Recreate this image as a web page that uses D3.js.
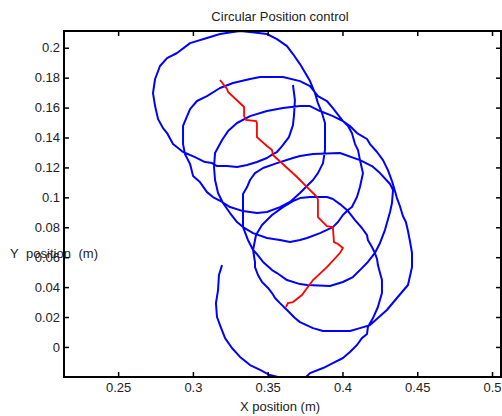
<!DOCTYPE html>
<html>
<head>
<meta charset="utf-8">
<script src="https://cdn.jsdelivr.net/npm/d3@7"></script>
<style>
  body { margin: 0; background: #fff; }
  text { font-family: "Liberation Sans", Arial, sans-serif; font-size: 13px; fill: #222; }
</style>
</head>
<body>
<svg id="chart" width="502" height="416"></svg>
<script>
//////////////////////////////////////////////////////////////////////////////
// Data (metres)

var xTicks = [0.25, 0.3, 0.35, 0.4, 0.45, 0.5];
var yTicks = [0, 0.02, 0.04, 0.06, 0.08, 0.1, 0.12, 0.14, 0.16, 0.18, 0.2];

// blue trajectory, one continuous path
var blueX = [
  0.3195, 0.3174, 0.3168, 0.3154, 0.3161, 0.3181, 0.3215, 0.3261, 0.3315, 0.3382,
  0.3449, 0.3515, 0.3596, 0.3682, 0.3749, 0.3783, 0.3870, 0.3936, 0.4003, 0.4050,
  0.4097, 0.4130, 0.4164, 0.4170, 0.4204, 0.4237, 0.4264, 0.4264, 0.4251, 0.4237,
  0.4231, 0.4217, 0.4197, 0.4170, 0.4164, 0.4130, 0.4084, 0.4037, 0.3983, 0.3936,
  0.3896, 0.3783, 0.3716, 0.3669, 0.3602, 0.3529, 0.3462, 0.3422, 0.3402, 0.3428,
  0.3469, 0.3529, 0.3562, 0.3629, 0.3716, 0.3763, 0.3916, 0.4003, 0.4070, 0.4130,
  0.4170, 0.4217, 0.4251, 0.4284, 0.4318, 0.4331, 0.4338, 0.4318, 0.4251, 0.4197,
  0.4117, 0.3983, 0.3803, 0.3716, 0.3669, 0.3562, 0.3469, 0.3415, 0.3382, 0.3362,
  0.3335, 0.3335, 0.3335, 0.3402, 0.3495, 0.3582, 0.3649, 0.3716, 0.3763, 0.3850,
  0.3936, 0.3970, 0.4003, 0.4037, 0.4063, 0.4097, 0.4117, 0.4130, 0.4137, 0.4117,
  0.4104, 0.4084, 0.4063, 0.4037, 0.4003, 0.3936, 0.3850, 0.3783, 0.3716, 0.3602,
  0.3495, 0.3382, 0.3295, 0.3235, 0.3195, 0.3148, 0.3141, 0.3148, 0.3168, 0.3201,
  0.3248, 0.3295, 0.3335, 0.3368, 0.3402, 0.3415, 0.3415, 0.3435, 0.3462, 0.3502,
  0.3529, 0.3549, 0.3582, 0.3629, 0.3682, 0.3716, 0.3803, 0.3870, 0.4050, 0.4117,
  0.4184, 0.4237, 0.4297, 0.4364, 0.4438, 0.4465, 0.4465, 0.4451, 0.4438, 0.4424,
  0.4404, 0.4384, 0.4364, 0.4351, 0.4331, 0.4304, 0.4271, 0.4231, 0.4184, 0.4164,
  0.4097, 0.4050, 0.4003, 0.3936, 0.3896, 0.3836, 0.3783, 0.3716, 0.3602, 0.3449,
  0.3382, 0.3268, 0.3181, 0.3094, 0.3027, 0.2981, 0.2961, 0.2934, 0.2934, 0.2947,
  0.2981, 0.3001, 0.3047, 0.3094, 0.3134, 0.3195, 0.3248, 0.3335, 0.3428, 0.3495,
  0.3582, 0.3649, 0.3716, 0.3769, 0.3803, 0.3836, 0.3870, 0.3883, 0.3883, 0.3883,
  0.3863, 0.3836, 0.3816, 0.3783, 0.3716, 0.3669, 0.3629, 0.3562, 0.3495, 0.3382,
  0.3315, 0.3268, 0.3181, 0.3094, 0.2981, 0.2894, 0.2827, 0.2780, 0.2747, 0.2733,
  0.2747, 0.2767, 0.2800, 0.2827, 0.2867, 0.2934, 0.3014, 0.3081, 0.3128, 0.3161,
  0.3228, 0.3295, 0.3362, 0.3428, 0.3495, 0.3535, 0.3562, 0.3596, 0.3642, 0.3669,
  0.3676, 0.3682, 0.3669
];
var blueY = [
  0.0547, 0.0481, 0.0380, 0.0293, 0.0200, 0.0146, 0.0059, -0.0007, -0.0067, -0.0121,
  -0.0154, -0.0188, -0.0208, -0.0221, -0.0208, -0.0175, -0.0141, -0.0108, -0.0074, -0.0034,
  0.0013, 0.0059, 0.0086, 0.0133, 0.0193, 0.0267, 0.0360, 0.0447, 0.0494, 0.0547,
  0.0588, 0.0628, 0.0668, 0.0715, 0.0748, 0.0795, 0.0848, 0.0908, 0.0955, 0.0989,
  0.1002, 0.1002, 0.0995, 0.0975, 0.0935, 0.0882, 0.0815, 0.0748, 0.0648, 0.0621,
  0.0568, 0.0514, 0.0494, 0.0447, 0.0420, 0.0414, 0.0407, 0.0434, 0.0467, 0.0527,
  0.0568, 0.0628, 0.0695, 0.0781, 0.0902, 0.0962, 0.1049, 0.1089, 0.1162, 0.1209,
  0.1249, 0.1296, 0.1289, 0.1276, 0.1263, 0.1229, 0.1196, 0.1162, 0.1116, 0.1069,
  0.1022, 0.0915, 0.0801, 0.0761, 0.0728, 0.0715, 0.0701, 0.0715, 0.0728, 0.0761,
  0.0801, 0.0835, 0.0882, 0.0915, 0.0935, 0.1002, 0.1069, 0.1129, 0.1162, 0.1249,
  0.1316, 0.1356, 0.1430, 0.1477, 0.1510, 0.1543, 0.1577, 0.1610, 0.1610, 0.1597,
  0.1577, 0.1543, 0.1497, 0.1443, 0.1383, 0.1296, 0.1203, 0.1116, 0.1029, 0.0962,
  0.0895, 0.0835, 0.0801, 0.0715, 0.0648, 0.0568, 0.0534, 0.0481, 0.0434, 0.0394,
  0.0360, 0.0327, 0.0293, 0.0247, 0.0193, 0.0166, 0.0126, 0.0106, 0.0106, 0.0126,
  0.0146, 0.0193, 0.0247, 0.0327, 0.0414, 0.0534, 0.0628, 0.0708, 0.0775, 0.0835,
  0.0875, 0.0942, 0.0995, 0.1042, 0.1109, 0.1182, 0.1249, 0.1303, 0.1356, 0.1390,
  0.1430, 0.1477, 0.1510, 0.1597, 0.1644, 0.1677, 0.1744, 0.1777, 0.1804, 0.1804,
  0.1791, 0.1764, 0.1731, 0.1677, 0.1644, 0.1590, 0.1543, 0.1477, 0.1356, 0.1289,
  0.1223, 0.1142, 0.1102, 0.1035, 0.1002, 0.0969, 0.0935, 0.0908, 0.0895, 0.0902,
  0.0935, 0.0969, 0.1029, 0.1082, 0.1116, 0.1162, 0.1229, 0.1316, 0.1383, 0.1497,
  0.1564, 0.1630, 0.1697, 0.1777, 0.1891, 0.1958, 0.2011, 0.2058, 0.2092, 0.2105,
  0.2112, 0.2105, 0.2092, 0.2065, 0.2031, 0.1965, 0.1931, 0.1878, 0.1791, 0.1697,
  0.1610, 0.1523, 0.1463, 0.1430, 0.1356, 0.1303, 0.1269, 0.1236, 0.1229, 0.1209,
  0.1209, 0.1203, 0.1216, 0.1236, 0.1263, 0.1289, 0.1303, 0.1343, 0.1403, 0.1483,
  0.1550, 0.1650, 0.1751
];

// red trajectory
var redX = [
  0.3181, 0.3228, 0.3235, 0.3342, 0.3342, 0.3355, 0.3422, 0.3428, 0.3428, 0.3495,
  0.3529, 0.3535, 0.3696, 0.3763, 0.3830, 0.3836, 0.3836, 0.3896, 0.3936, 0.3943,
  0.3970, 0.4003, 0.3983, 0.3896, 0.3803, 0.3729, 0.3669, 0.3636, 0.3622
];
var redY = [
  0.1784, 0.1724, 0.1704, 0.1604, 0.1543, 0.1517, 0.1510, 0.1497, 0.1403, 0.1343,
  0.1316, 0.1283, 0.1136, 0.1069, 0.1002, 0.0982, 0.0868, 0.0808, 0.0801, 0.0701,
  0.0688, 0.0661, 0.0628, 0.0534, 0.0447, 0.0347, 0.0300, 0.0293, 0.0267
];

//////////////////////////////////////////////////////////////////////////////
// Scales (axis equal, same px per metre on both axes)

var plotL = 64, plotR = 501, plotT = 31, plotB = 377;

var xScale = d3.scaleLinear().domain([0.2138, 0.5060]).range([plotL, plotR]);
var yScale = d3.scaleLinear().domain([-0.0201, 0.2112]).range([plotB, plotT]);

var svg = d3.select("#chart");

svg.append("rect")
    .attr("width", 502).attr("height", 416)
    .attr("fill", "#fff");

svg.append("clipPath").attr("id", "plotclip")
  .append("rect")
    .attr("x", plotL).attr("y", plotT)
    .attr("width", plotR - plotL).attr("height", plotB - plotT);

function zip(xs, ys) {
    return xs.map(function(x, i) { return [x, ys[i]]; });
}

var line = d3.line()
    .x(function(d) { return xScale(d[0]); })
    .y(function(d) { return yScale(d[1]); });

var plot = svg.append("g").attr("clip-path", "url(#plotclip)");

plot.append("path")
    .datum(zip(blueX, blueY))
    .attr("d", line)
    .attr("fill", "none")
    .attr("stroke", "#0000ff")
    .attr("stroke-width", 2)
    .attr("stroke-linejoin", "round");

plot.append("path")
    .datum(zip(redX, redY))
    .attr("d", line)
    .attr("fill", "none")
    .attr("stroke", "#ff0000")
    .attr("stroke-width", 1.8);

//////////////////////////////////////////////////////////////////////////////
// Axes, ticks pointing inward on all four sides

function styleAxis(g) {
    g.select(".domain").remove();
    g.selectAll(".tick line").attr("stroke", "#000").attr("stroke-width", 1.5);
    g.selectAll(".tick text")
        .attr("fill", "#222")
        .style("font-family", "Liberation Sans, Arial, sans-serif")
        .style("font-size", "13px");
}

svg.append("g")
    .attr("transform", "translate(0," + plotB + ")")
    .call(d3.axisBottom(xScale).tickValues(xTicks).tickFormat(d3.format("~g"))
          .tickSize(-5).tickPadding(6))
    .call(styleAxis);

svg.append("g")
    .attr("transform", "translate(0," + plotT + ")")
    .call(d3.axisTop(xScale).tickValues(xTicks).tickFormat("").tickSize(-5))
    .call(styleAxis);

svg.append("g")
    .attr("transform", "translate(" + plotL + ",0)")
    .call(d3.axisLeft(yScale).tickValues(yTicks).tickFormat(d3.format("~g"))
          .tickSize(-5).tickPadding(4))
    .call(styleAxis);

svg.append("g")
    .attr("transform", "translate(" + plotR + ",0)")
    .call(d3.axisRight(yScale).tickValues(yTicks).tickFormat("").tickSize(-5))
    .call(styleAxis);

svg.append("rect")
    .attr("x", plotL).attr("y", plotT)
    .attr("width", plotR - plotL).attr("height", plotB - plotT)
    .attr("fill", "none")
    .attr("stroke", "#000")
    .attr("stroke-width", 2);

//////////////////////////////////////////////////////////////////////////////
// Labels

svg.append("text")
    .attr("x", 280).attr("y", 16).attr("dy", "0.35em")
    .attr("text-anchor", "middle")
    .text("Circular Position control");

svg.append("text")
    .attr("x", 280).attr("y", 406).attr("dy", "0.35em")
    .attr("text-anchor", "middle")
    .text("X position (m)");

svg.append("text")
    .attr("x", 10).attr("y", 253).attr("dy", "0.35em")
    .style("word-spacing", "4px")
    .text("Y position (m)");
</script>
</body>
</html>
